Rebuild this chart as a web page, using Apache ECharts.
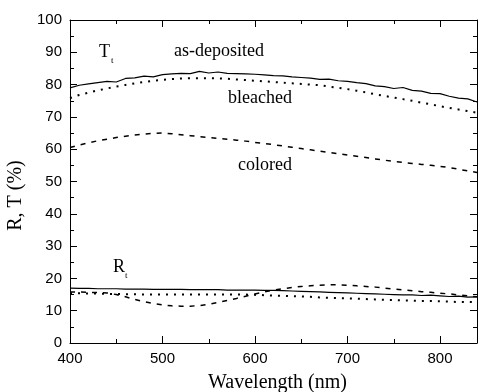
<!DOCTYPE html>
<html><head><meta charset="utf-8">
<script src="https://cdn.jsdelivr.net/npm/echarts@6/dist/echarts.min.js"></script>
<style>html,body{margin:0;padding:0;background:#fff}#c{width:480px;height:392px}</style>
</head><body><div id="c"></div>
<script>
const wavelength = [400,410,420,430,440,450,460,470,480,490,500,510,520,530,540,550,560,570,580,590,600,610,620,630,640,650,660,670,680,690,700,710,720,730,740,750,760,770,780,790,800,810,820,830,840];
const T_asDeposited = [79.0,79.8,80.2,80.6,81.0,80.8,81.9,82.1,82.6,82.4,83.1,83.3,83.5,83.4,84.1,83.6,83.9,83.5,83.4,83.3,83.2,83.0,82.8,82.7,82.4,82.2,82.0,81.6,81.7,81.2,81.0,80.6,80.3,79.6,79.4,78.8,79.1,78.2,78.0,77.3,77.2,76.4,75.8,75.6,74.6];
const T_bleached = [75.8,76.8,77.5,78.2,78.8,79.4,79.9,80.4,80.8,81.2,81.5,81.7,81.9,82.0,82.0,82.0,81.9,81.8,81.6,81.4,81.2,81.0,80.8,80.6,80.4,80.2,80.0,79.8,79.4,79.0,78.6,78.1,77.6,77.0,76.5,76.0,75.5,75.0,74.4,73.9,73.3,72.8,72.3,71.8,71.3];
const T_colored = [60.5,61.3,62.0,62.6,63.1,63.6,64.0,64.4,64.7,64.9,65.0,64.8,64.5,64.2,63.9,63.6,63.3,63.1,62.8,62.5,62.1,61.8,61.4,61.0,60.6,60.2,59.8,59.4,59.0,58.6,58.2,57.8,57.4,57.0,56.6,56.2,55.9,55.6,55.3,55.0,54.7,54.3,53.8,53.3,52.8];
const R_asDeposited = [17.0,16.9,16.9,16.8,16.8,16.8,16.7,16.7,16.7,16.6,16.6,16.6,16.6,16.5,16.5,16.5,16.5,16.4,16.4,16.4,16.4,16.3,16.3,16.2,16.1,16.0,15.9,15.8,15.7,15.6,15.5,15.4,15.3,15.2,15.1,15.0,14.9,14.9,14.7,14.8,14.6,14.4,14.5,14.2,14.3];
const R_bleached = [15.4,15.4,15.3,15.3,15.2,15.2,15.1,15.1,15.0,15.0,15.0,15.0,15.0,15.0,15.0,15.0,15.0,15.0,15.0,15.0,14.9,14.8,14.7,14.6,14.5,14.4,14.3,14.1,14.0,13.9,13.8,13.7,13.6,13.5,13.4,13.3,13.2,13.1,13.0,13.0,12.9,12.8,12.7,12.7,12.6];
const R_colored = [15.8,15.8,15.7,15.6,15.5,15.0,14.3,13.5,12.8,12.2,11.8,11.5,11.4,11.4,11.6,12.0,12.6,13.2,13.8,14.5,15.2,15.8,16.4,16.8,17.2,17.5,17.7,17.9,18.0,18.0,17.9,17.7,17.5,17.3,17.0,16.7,16.4,16.2,15.9,15.7,15.4,15.2,14.9,14.6,14.3];
const xTicks = {min: 400, max: 840, interval: 100};
const yTicks = {min: 0, max: 100, interval: 10};

const pairs = ys => wavelength.map((w, i) => [w, ys[i]]);
const SANS = 'Liberation Sans, Arial, sans-serif';
const SERIF = 'Liberation Serif, Times New Roman, serif';
const solid = {color: '#000', width: 1.2, type: 'solid'};
const dotted = {color: '#000', width: 2, type: [2, 6], cap: 'butt'};
const dashed = {color: '#000', width: 1.5, type: [5, 6], cap: 'butt'};
const mk = (ys, ls) => ({type: 'line', data: pairs(ys), showSymbol: false, symbol: 'none', lineStyle: ls, silent: true});

function axisCommon(showLabel, showMax) {
  return {
    axisLine: {show: true, onZero: false, lineStyle: {color: '#000', width: 1}},
    axisTick: {show: true, inside: true, length: 7, lineStyle: {color: '#000', width: 1}},
    minorTick: {show: true, splitNumber: 2, length: 4, lineStyle: {color: '#000', width: 1}},
    splitLine: {show: false},
    axisLabel: {show: showLabel, color: '#000', fontSize: 15, fontFamily: SANS, margin: 8, showMaxLabel: showMax}
  };
}

const chart = echarts.init(document.getElementById('c'));
chart.setOption({
  backgroundColor: '#fff',
  animation: false,
  grid: {left: 70, top: 20, right: 3, bottom: 49, outerBoundsMode: 'none'},
  xAxis: [
    Object.assign({type: 'value', position: 'bottom', name: 'Wavelength (nm)', nameLocation: 'middle', nameGap: 30,
      nameTextStyle: {color: '#000', fontSize: 20, fontFamily: SERIF, padding: [0, 0, 0, 8]}}, xTicks, axisCommon(true, false)),
    Object.assign({type: 'value', position: 'top'}, xTicks, axisCommon(false, false))
  ],
  yAxis: [
    Object.assign({type: 'value', position: 'left', name: 'R, T (%)', nameLocation: 'middle', nameGap: 43,
      nameTextStyle: {color: '#000', fontSize: 20, fontFamily: SERIF, padding: [0, 28, 0, 0]}}, yTicks, axisCommon(true, true)),
    Object.assign({type: 'value', position: 'right'}, yTicks, axisCommon(false, true))
  ],
  series: [
    mk(T_asDeposited, solid),
    mk(T_bleached, dotted),
    mk(T_colored, dashed),
    mk(R_asDeposited, solid),
    mk(R_bleached, dotted),
    mk(R_colored, dashed)
  ],
  graphic: [
    {type: 'text', left: 99, top: 43, style: {text: 'T', fontSize: 18, fontFamily: SERIF, fill: '#000'}},
    {type: 'text', left: 111, top: 56, style: {text: 't', fontSize: 9, fontFamily: SERIF, fill: '#000'}},
    {type: 'text', left: 174, top: 42, style: {text: 'as-deposited', fontSize: 18, fontFamily: SERIF, fill: '#000'}},
    {type: 'text', left: 228, top: 89, style: {text: 'bleached', fontSize: 18, fontFamily: SERIF, fill: '#000'}},
    {type: 'text', left: 238, top: 156, style: {text: 'colored', fontSize: 18, fontFamily: SERIF, fill: '#000'}},
    {type: 'text', left: 113, top: 258, style: {text: 'R', fontSize: 18, fontFamily: SERIF, fill: '#000'}},
    {type: 'text', left: 125, top: 271, style: {text: 't', fontSize: 9, fontFamily: SERIF, fill: '#000'}}
  ]
});
</script></body></html>
